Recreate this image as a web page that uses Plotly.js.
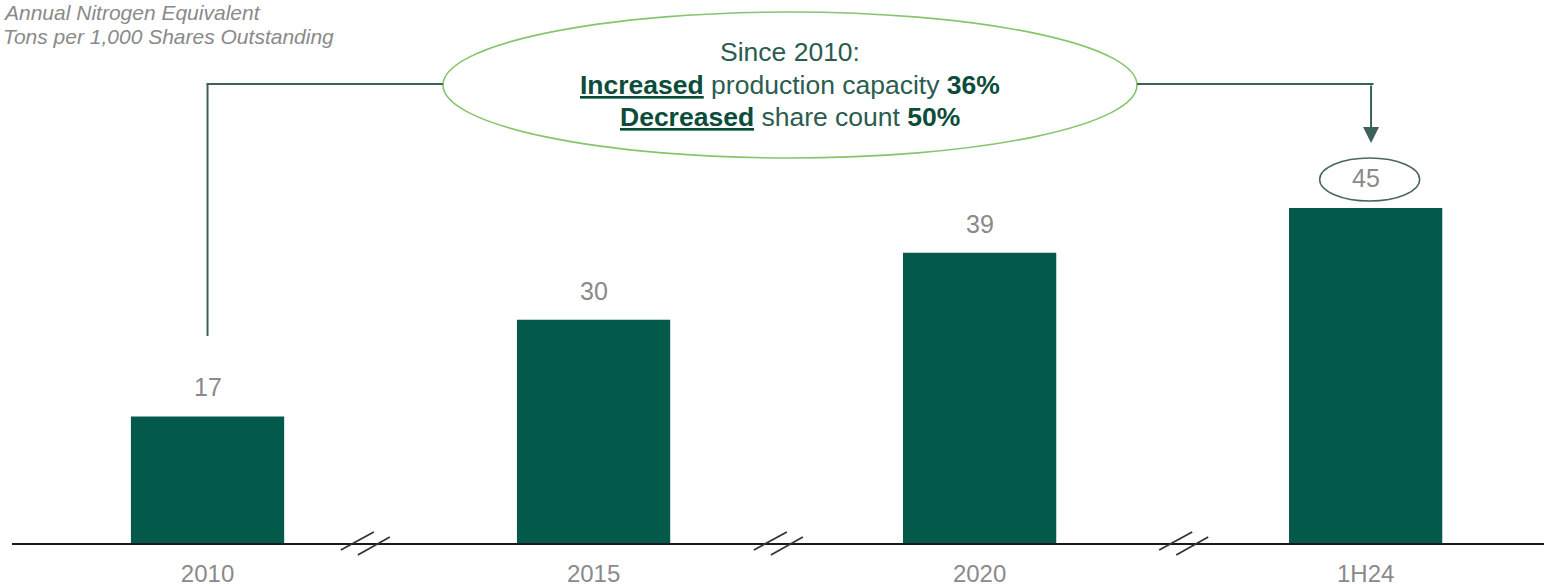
<!DOCTYPE html>
<html>
<head>
<meta charset="utf-8">
<script src="https://cdn.plot.ly/plotly-3.0.1.min.js"></script>
<style>
  html, body { margin: 0; padding: 0; background: #ffffff; }
  #chart { width: 1544px; height: 586px; }
</style>
</head>
<body>
<div id="chart"></div>
<script>
// ---- data ----
const categories = ["2010", "2015", "2020", "1H24"];
const values = [17, 30, 39, 45];
const valueLabels = ["17", "30", "39", "45"];
const yTitleLines = ["Annual Nitrogen Equivalent", "Tons per 1,000 Shares Outstanding"];
const calloutLines = [
  "Since 2010:",
  "<b><u>Increased</u></b> production capacity <b>36%</b>",
  "<b><u>Decreased</u></b> share count <b>50%</b>"
];

// ---- layout helpers (pixel -> paper) ----
const W = 1544, H = 586;
const M = { l: 12, r: 0, t: 0, b: 43 };
const PW = W - M.l - M.r, PH = H - M.t - M.b;
const X = px => (px - M.l) / PW;
const Y = py => (M.t + PH - py) / PH;

const FONT = "Liberation Sans, Arial, sans-serif";
const GREEN = "#03594a";
const GRAY = "#8a8a8a";
const TXT = "#2b5c50";
const BOLD = "#0b4c3b";
const CONNECT = "#3a6259";

const idx = categories.map((c, i) => i);

const trace = {
  type: "bar",
  x: idx,
  y: values,
  width: 0.397,
  marker: { color: GREEN, line: { width: 0 } },
  hoverinfo: "skip"
};

const annotations = [];
// value labels above bars
values.forEach((v, i) => {
  annotations.push({
    x: i, y: v, xref: "x", yref: "y",
    text: valueLabels[i], showarrow: false,
    yanchor: "middle", yshift: i === 3 ? 30 : 29,
    font: { family: FONT, size: 25, color: GRAY }
  });
});
// y title (top-left, italic)
annotations.push({
  x: X(1), y: Y(12), xref: "paper", yref: "paper",
  text: yTitleLines[0], showarrow: false, xanchor: "left", yanchor: "middle",
  font: { family: FONT, size: 21, color: GRAY, style: "italic" }
});
annotations.push({
  x: X(1), y: Y(36), xref: "paper", yref: "paper",
  text: yTitleLines[1], showarrow: false, xanchor: "left", yanchor: "middle",
  font: { family: FONT, size: 21, color: GRAY, style: "italic" }
});
// callout text
const calloutY = [52, 85, 117];
calloutLines.forEach((t, i) => {
  annotations.push({
    x: X(790), y: Y(calloutY[i]), xref: "paper", yref: "paper",
    text: i === 0 ? t : t.replace(/<b>/g, '<b><span style="color:' + BOLD + '">').replace(/<\/b>/g, '</span></b>'),
    showarrow: false, xanchor: "center", yanchor: "middle",
    font: { family: FONT, size: 26.5, color: TXT }
  });
});
// arrow down to last bar
annotations.push({
  x: 3.014, y: Y(143), xref: "x", yref: "paper",
  ax: 0, ay: -59, axref: "pixel", ayref: "pixel",
  text: "", showarrow: true, arrowhead: 2, arrowsize: 1.6, arrowwidth: 2,
  arrowcolor: CONNECT, standoff: 0
});

const shapes = [];
// big callout ellipse
shapes.push({
  type: "circle", xref: "paper", yref: "paper",
  x0: X(443), x1: X(1137), y0: Y(158), y1: Y(12),
  line: { color: "#86c56c", width: 1.6 }, fillcolor: "rgba(255,255,255,0)", layer: "above"
});
// left connector: from above first bar up and to the ellipse
shapes.push({
  type: "line", xref: "x", yref: "paper",
  x0: 0, x1: 0, y0: Y(336), y1: Y(84),
  line: { color: CONNECT, width: 2 }
});
shapes.push({
  type: "line", xref: "paper", yref: "paper",
  x0: X(206.5), x1: X(443), y0: Y(84), y1: Y(84),
  line: { color: CONNECT, width: 2 }
});
// right connector: from ellipse to above last bar
shapes.push({
  type: "line", xref: "paper", yref: "paper",
  x0: X(1137), x1: X(1373.5), y0: Y(84), y1: Y(84),
  line: { color: CONNECT, width: 2 }
});
// small ellipse around last value
shapes.push({
  type: "circle", xref: "x", yref: "y",
  xsizemode: "pixel", ysizemode: "pixel",
  xanchor: 3, yanchor: values[3],
  x0: -46, x1: 54, y0: 7, y1: 50,
  line: { color: "#4a6660", width: 1.5 }
});
// axis break marks
[0.41, 1.48, 2.53].forEach(p => {
  shapes.push({
    type: "line", xref: "x", yref: "paper", xsizemode: "pixel", ysizemode: "pixel",
    xanchor: p, yanchor: 0, x0: -25, x1: 8, y0: -7, y1: 11,
    line: { color: "#333333", width: 1.8 }
  });
  shapes.push({
    type: "line", xref: "x", yref: "paper", xsizemode: "pixel", ysizemode: "pixel",
    xanchor: p, yanchor: 0, x0: -8, x1: 24, y0: -12, y1: 6,
    line: { color: "#333333", width: 1.8 }
  });
});

const layout = {
  width: W, height: H,
  margin: M,
  paper_bgcolor: "#ffffff", plot_bgcolor: "#ffffff",
  showlegend: false,
  font: { family: FONT },
  xaxis: {
    type: "linear",
    range: [-0.5065, 3.462],
    tickvals: idx, ticktext: categories,
    showgrid: false, zeroline: false,
    showline: true, linecolor: "#1a1a1a", linewidth: 2,
    ticks: "", ticklabelstandoff: 8,
    tickfont: { family: FONT, size: 24, color: GRAY },
    fixedrange: true
  },
  yaxis: {
    range: [0, 72.94],
    visible: false, showgrid: false, zeroline: false,
    fixedrange: true
  },
  annotations: annotations,
  shapes: shapes
};

Plotly.newPlot("chart", [trace], layout, { displayModeBar: false, staticPlot: true });
</script>
</body>
</html>
